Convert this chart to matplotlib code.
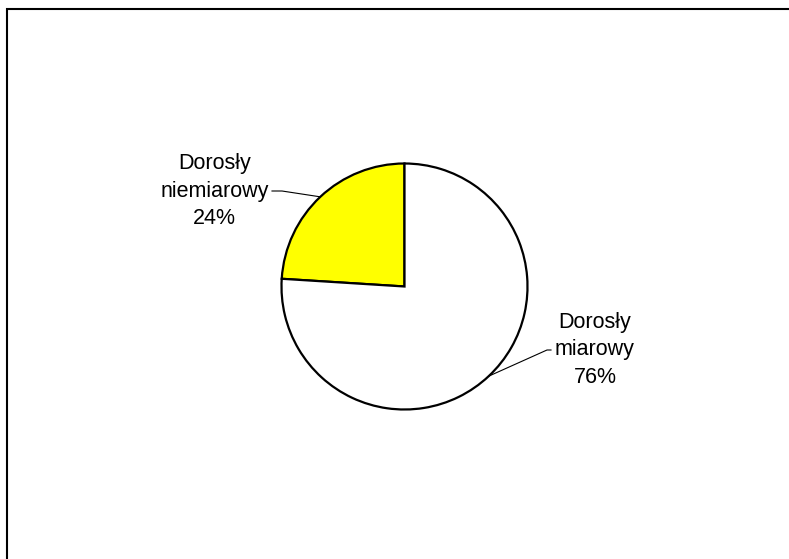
import numpy as np
import matplotlib
matplotlib.use("Agg")
import matplotlib.pyplot as plt
from matplotlib.patches import Rectangle

labels = ["Dorosły\nniemiarowy", "Dorosły\nmiarowy"]
values = [24, 76]
colors = ["#FFFF00", "#FFFFFF"]

W, H = 789, 559
fig = plt.figure(figsize=(W / 100, H / 100), dpi=100)
ax = fig.add_axes([0, 0, 1, 1])
ax.set_xlim(0, W)
ax.set_ylim(0, H)
ax.set_axis_off()

# frame (right/bottom edges lie outside the image)
ax.add_patch(Rectangle((7.5, -20), W + 20, H - 9 + 20, fill=False,
                       edgecolor="black", lw=1.5))

cx, cy, r = 404.5, H - 286.5, 123
wedges, _ = ax.pie(values, colors=colors, startangle=90, counterclock=True,
                   center=(cx, cy), radius=r, frame=True,
                   wedgeprops=dict(edgecolor="black", linewidth=1.6))
ax.set_xlim(0, W)
ax.set_ylim(0, H)
ax.set_aspect("auto")
ax.set_axis_off()

font = dict(family=["Liberation Sans", "DejaVu Sans"], fontsize=15.5)
pct = [f"{v / sum(values) * 100:.0f}%" for v in values]

# label layout: (text center x, middle line y, line end x, knee x)
layout = [(214.5, H - 191, 272, 282), (595, H - 350, 551, 547)]
for w, lab, p, (tx, ty, lx, kx) in zip(wedges, labels, pct, layout):
    ang = np.deg2rad((w.theta1 + w.theta2) / 2)
    ex, ey = cx + r * np.cos(ang), cy + r * np.sin(ang)
    ax.text(tx, ty, f"{lab}\n{p}", ha="center", va="center",
            linespacing=1.4, **font)
    ax.plot([lx, kx, ex], [ty, ty, ey], color="black", lw=0.8)

fig.savefig("out.png", dpi=100)
